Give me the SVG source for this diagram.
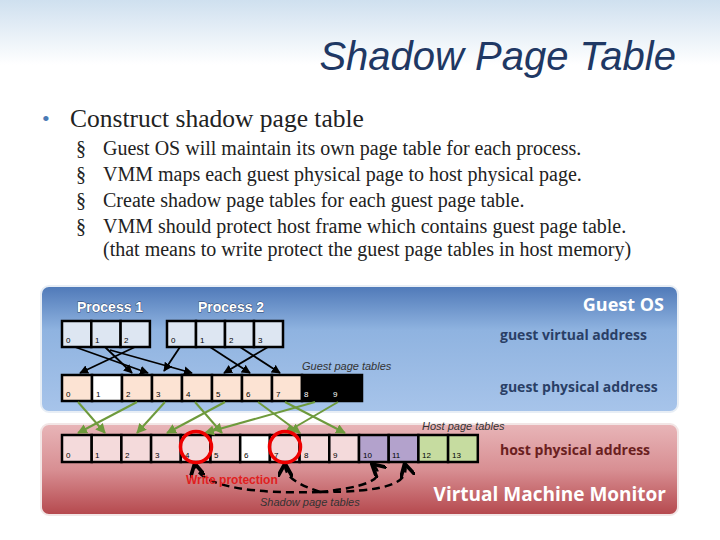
<svg xmlns="http://www.w3.org/2000/svg" width="720" height="540" viewBox="0 0 720 540">
<defs>
<linearGradient id="bg" x1="0" y1="0" x2="0" y2="1"><stop offset="0" stop-color="#cfe0ef"/><stop offset="0.12" stop-color="#ffffff"/></linearGradient>
<linearGradient id="blue" x1="0" y1="0" x2="0" y2="1"><stop offset="0" stop-color="#4f79b8"/><stop offset="0.35" stop-color="#8fb3e0"/><stop offset="1" stop-color="#a7c4ea"/></linearGradient>
<linearGradient id="pink" x1="0" y1="0" x2="0" y2="1"><stop offset="0" stop-color="#e8b5b8"/><stop offset="0.5" stop-color="#d88f93"/><stop offset="1" stop-color="#b5484d"/></linearGradient>
<marker id="ab" viewBox="0 0 10 10" refX="9" refY="5" markerWidth="5" markerHeight="5" orient="auto"><path d="M0,0 L10,5 L0,10 z" fill="#000"/></marker>
<marker id="ag" viewBox="0 0 10 10" refX="9" refY="5" markerWidth="5" markerHeight="5" orient="auto"><path d="M0,0 L10,5 L0,10 z" fill="#6e9a3c"/></marker>
<marker id="ao" viewBox="0 0 10 10" refX="8" refY="5" markerWidth="6" markerHeight="6" orient="auto"><path d="M0,0 L9,5 L0,10" fill="none" stroke="#000" stroke-width="2.5"/></marker>
</defs>
<style>
.c{stroke:#000;stroke-width:2.5}
.n{font-family:"Liberation Sans",sans-serif;font-size:8px;fill:#000}
.nw{font-family:"Liberation Sans",sans-serif;font-size:8px;fill:#fff}
.b{font-family:"Liberation Serif",serif;font-size:20px;fill:#222}
.lab{font-family:"Open Sans","Liberation Sans",sans-serif;font-weight:bold;font-size:14px;fill:#2a3f66}
.it{font-family:"Liberation Sans",sans-serif;font-style:italic;font-size:11px;fill:#333}
.ba{stroke:#000;stroke-width:1.8;fill:none;marker-end:url(#ab)}
.ga{stroke:#6e9a3c;stroke-width:2;fill:none;marker-end:url(#ag)}
.da{stroke:#000;stroke-width:2.5;fill:none;stroke-dasharray:8,5;marker-end:url(#ao)}
.pl{font-family:"Liberation Sans",sans-serif;font-weight:bold;font-size:14px;fill:#fff;stroke:#2a3f66;stroke-width:0.8;paint-order:stroke}
</style>
<rect width="720" height="540" fill="url(#bg)"/>
<text x="676" y="70" text-anchor="end" font-family="Liberation Sans,sans-serif" font-style="italic" font-size="40" fill="#1f3864">Shadow Page Table</text>
<text x="42" y="126" font-family="Liberation Serif,serif" font-size="22" fill="#4a7ab5">•</text>
<text x="70" y="127" font-family="Liberation Serif,serif" font-size="25.5" fill="#222">Construct shadow page table</text>
<g class="b">
<text x="76" y="155">§</text><text x="103" y="155">Guest OS will maintain its own page table for each process.</text>
<text x="76" y="181">§</text><text x="103" y="181">VMM maps each guest physical page to host physical page.</text>
<text x="76" y="207">§</text><text x="103" y="207">Create shadow page tables for each guest page table.</text>
<text x="76" y="233">§</text><text x="103" y="233">VMM should protect host frame which contains guest page table.</text>
<text x="103" y="256">(that means to write protect the guest page tables in host memory)</text>
</g>
<g id="guest-os">
<rect x="41" y="286" width="637" height="126" rx="8" fill="url(#blue)" stroke="#e8eef5" stroke-width="2"/>
<text x="664" y="311" text-anchor="end" font-family="Open Sans,Liberation Sans,sans-serif" font-weight="bold" font-size="18" fill="#fff">Guest OS</text>
<text x="500" y="340" class="lab">guest virtual address</text>
<text x="500" y="392" class="lab">guest physical address</text>
<text x="77" y="312" class="pl">Process 1</text>
<text x="198" y="312" class="pl">Process 2</text>
<text x="302" y="370" class="it" fill="#333">Guest page tables</text>
</g>
<g id="vmm">
<rect x="41" y="424" width="637" height="91" rx="8" fill="url(#pink)" stroke="#f2e6e6" stroke-width="2"/>
<text x="666" y="501" text-anchor="end" font-family="Open Sans,Liberation Sans,sans-serif" font-weight="bold" font-size="19" fill="#fff">Virtual Machine Monitor</text>
<text x="500" y="455" class="lab" style="fill:#6a2020">host physical address</text>
<text x="422" y="430" class="it">Host page tables</text>
<text x="260" y="506" class="it">Shadow page tables</text>
</g>
<g id="process1">
<rect x="62" y="321" width="29.3" height="26" fill="#dde6f2" class="c"/><text x="66" y="343" class="n">0</text>
<rect x="91.3" y="321" width="29.3" height="26" fill="#dde6f2" class="c"/><text x="95" y="343" class="n">1</text>
<rect x="120.6" y="321" width="29.3" height="26" fill="#dde6f2" class="c"/><text x="124" y="343" class="n">2</text>
</g>
<g id="process2">
<rect x="167" y="321" width="29" height="26" fill="#dde6f2" class="c"/><text x="171" y="343" class="n">0</text>
<rect x="196" y="321" width="29" height="26" fill="#dde6f2" class="c"/><text x="200" y="343" class="n">1</text>
<rect x="225" y="321" width="29" height="26" fill="#dde6f2" class="c"/><text x="229" y="343" class="n">2</text>
<rect x="254" y="321" width="29" height="26" fill="#dde6f2" class="c"/><text x="258" y="343" class="n">3</text>
</g>
<g id="guest-physical">
<rect x="62" y="375" width="30" height="26" fill="#fce3d3" class="c"/><text x="66" y="397" class="n">0</text>
<rect x="92" y="375" width="30" height="26" fill="#fff" class="c"/><text x="96" y="397" class="n">1</text>
<rect x="122" y="375" width="30" height="26" fill="#fce3d3" class="c"/><text x="126" y="397" class="n">2</text>
<rect x="152" y="375" width="30" height="26" fill="#fce3d3" class="c"/><text x="156" y="397" class="n">3</text>
<rect x="182" y="375" width="30" height="26" fill="#fce3d3" class="c"/><text x="186" y="397" class="n">4</text>
<rect x="212" y="375" width="30" height="26" fill="#fce3d3" class="c"/><text x="216" y="397" class="n">5</text>
<rect x="242" y="375" width="30" height="26" fill="#fce3d3" class="c"/><text x="246" y="397" class="n">6</text>
<rect x="272" y="375" width="30" height="26" fill="#fce3d3" class="c"/><text x="276" y="397" class="n">7</text>
<rect x="302" y="375" width="60" height="26" fill="#000" class="c"/><text x="304" y="397" class="nw">8</text><text x="333" y="397" class="nw">9</text>
</g>
<g id="host-physical">
<rect x="62" y="435" width="29.7" height="27" fill="#f4dadb" class="c"/><text x="66" y="458" class="n">0</text>
<rect x="91.7" y="435" width="29.7" height="27" fill="#f4dadb" class="c"/><text x="95" y="458" class="n">1</text>
<rect x="121.4" y="435" width="29.7" height="27" fill="#f4dadb" class="c"/><text x="125" y="458" class="n">2</text>
<rect x="151.1" y="435" width="29.7" height="27" fill="#f4dadb" class="c"/><text x="155" y="458" class="n">3</text>
<rect x="180.8" y="435" width="29.7" height="27" fill="#f4dadb" class="c"/><text x="185" y="458" class="n">4</text>
<rect x="210.5" y="435" width="29.7" height="27" fill="#f4dadb" class="c"/><text x="214" y="458" class="n">5</text>
<rect x="240.2" y="435" width="29.7" height="27" fill="#fff" class="c"/><text x="244" y="458" class="n">6</text>
<rect x="269.9" y="435" width="29.7" height="27" fill="#f4dadb" class="c"/><text x="274" y="458" class="n">7</text>
<rect x="299.6" y="435" width="29.7" height="27" fill="#f4dadb" class="c"/><text x="304" y="458" class="n">8</text>
<rect x="329.3" y="435" width="29.7" height="27" fill="#f4dadb" class="c"/><text x="333" y="458" class="n">9</text>
<rect x="359" y="435" width="29.7" height="27" fill="#b3a2cc" class="c"/><text x="363" y="458" class="n">10</text>
<rect x="388.7" y="435" width="29.7" height="27" fill="#b3a2cc" class="c"/><text x="392" y="458" class="n">11</text>
<rect x="418.4" y="435" width="29.7" height="27" fill="#c6dca0" class="c"/><text x="422" y="458" class="n">12</text>
<rect x="448.1" y="435" width="29.7" height="27" fill="#c6dca0" class="c"/><text x="452" y="458" class="n">13</text>
</g>
<g id="connectors">
<line x1="75" y1="347" x2="148" y2="373" class="ba"/>
<line x1="105" y1="347" x2="132" y2="373" class="ba"/>
<line x1="135" y1="347" x2="80" y2="373" class="ba"/>
<line x1="180" y1="347" x2="164" y2="371" class="ba"/>
<line x1="110" y1="350" x2="192" y2="373" class="ba"/>
<line x1="210" y1="347" x2="250" y2="373" class="ba"/>
<line x1="240" y1="347" x2="280" y2="373" class="ba"/>
<line x1="268" y1="347" x2="224" y2="373" class="ba"/>
<line x1="78" y1="402" x2="105" y2="433" class="ga"/>
<line x1="137" y1="402" x2="78" y2="433" class="ga"/>
<line x1="165" y1="402" x2="137" y2="433" class="ga"/>
<line x1="195" y1="402" x2="222" y2="433" class="ga"/>
<line x1="225" y1="402" x2="167" y2="433" class="ga"/>
<line x1="258" y1="402" x2="300" y2="433" class="ga"/>
<line x1="285" y1="402" x2="345" y2="433" class="ga"/>
<line x1="315" y1="402" x2="205" y2="433" class="ga"/>
<line x1="338" y1="402" x2="285" y2="433" class="ga"/>
<path d="M320,492 C260,494 200,488 195,465" class="da"/>
<path d="M320,492 C360,488 390,480 373,465" class="da"/>
<path d="M320,492 C300,485 285,478 285,465" class="da"/>
<path d="M320,492 C380,492 410,485 405,465" class="da"/>
</g>
<g id="protection">
<circle cx="196" cy="447" r="15.5" fill="none" stroke="#e00" stroke-width="3.5"/>
<circle cx="285" cy="447" r="15.5" fill="none" stroke="#e00" stroke-width="3.5"/>
<text x="186" y="484" font-family="Liberation Sans,sans-serif" font-weight="bold" font-size="12" fill="#e02020">Write protection</text>
</g>
</svg>
